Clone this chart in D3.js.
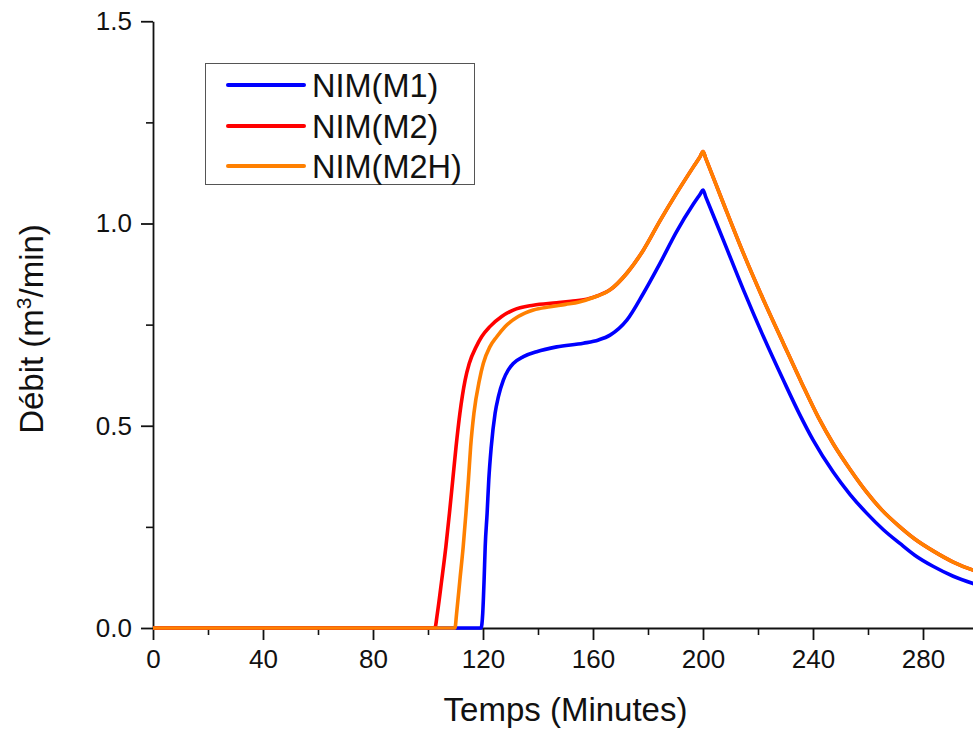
<!DOCTYPE html>
<html>
<head>
<meta charset="utf-8">
<script src="https://cdn.jsdelivr.net/npm/d3@7"></script>
<style>
  html, body { margin: 0; padding: 0; background: #fff; }
  svg { display: block; font-family: Arial, "Liberation Sans", sans-serif; }
</style>
</head>
<body>
<svg id="chart" width="973" height="730"></svg>
<script>
// ---- Data ----
const seriesNames = ["NIM(M1)", "NIM(M2)", "NIM(M2H)"];
const seriesColors = ["#0000ff", "#ff0000", "#ff8000"];

const m1Time = [0, 119.3, 119.9, 120.4, 120.8, 121.5, 122.1, 123.0, 124.4, 125.6, 127.4, 129.2, 131.0, 134.7, 139.5, 146.8, 156.5, 162, 166.2, 172.3, 178.3, 184.4, 190.4, 196.5, 199, 200, 201, 207.4, 214.7, 222, 229.2, 235, 240, 247.4, 253.5, 259.5, 265.6, 271.6, 277, 283.8, 291, 298.2, 300];
const m1Flow = [0, 0, 0.036, 0.119, 0.201, 0.284, 0.366, 0.448, 0.531, 0.572, 0.613, 0.638, 0.654, 0.671, 0.683, 0.695, 0.704, 0.712, 0.724, 0.761, 0.827, 0.902, 0.980, 1.048, 1.073, 1.083, 1.066, 0.959, 0.836, 0.720, 0.613, 0.530, 0.465, 0.385, 0.330, 0.284, 0.243, 0.209, 0.180, 0.152, 0.128, 0.110, 0.106];

const m2Time = [0, 102.5, 103.4, 105.0, 106.5, 107.8, 109.0, 110.2, 111.6, 113.5, 115.0, 117.5, 119.5, 122.5, 126.8, 131.0, 138.3, 146.8, 152, 157.7, 162, 166.2, 172.3, 178.3, 184.4, 190.4, 196.5, 199, 200, 201, 207.4, 214.7, 222, 229.2, 236, 242, 247.4, 253.5, 259.5, 265, 271.6, 277, 283.8, 291, 298.2, 300];
const m2Flow = [0, 0, 0.036, 0.119, 0.201, 0.284, 0.366, 0.448, 0.531, 0.613, 0.654, 0.695, 0.720, 0.745, 0.770, 0.786, 0.798, 0.804, 0.808, 0.813, 0.822, 0.836, 0.877, 0.934, 1.007, 1.075, 1.140, 1.166, 1.178, 1.161, 1.050, 0.926, 0.811, 0.704, 0.604, 0.520, 0.455, 0.392, 0.336, 0.292, 0.250, 0.220, 0.190, 0.163, 0.143, 0.139];

const m2hTime = [0, 109.8, 110.4, 111.6, 112.8, 113.8, 114.7, 115.5, 116.7, 118.7, 120.1, 122.5, 125.0, 128.0, 132.8, 138.3, 144.4, 150, 155, 160.1, 166.2, 172.3, 178.3, 184.4, 190.4, 196.5, 199, 200, 201, 207.4, 214.7, 222, 229.2, 236, 242, 247.4, 253.5, 259.5, 265, 271.6, 277, 283.8, 291, 298.2, 300];
const m2hFlow = [0, 0, 0.036, 0.119, 0.201, 0.284, 0.366, 0.448, 0.531, 0.613, 0.654, 0.695, 0.720, 0.745, 0.770, 0.786, 0.794, 0.800, 0.806, 0.817, 0.836, 0.877, 0.934, 1.007, 1.075, 1.140, 1.166, 1.178, 1.161, 1.050, 0.926, 0.811, 0.704, 0.604, 0.520, 0.455, 0.392, 0.336, 0.292, 0.250, 0.220, 0.190, 0.163, 0.143, 0.139];

const xMajorTicks = [0, 40, 80, 120, 160, 200, 240, 280];
const xMinorTicks = [20, 60, 100, 140, 180, 220, 260, 300];
const yMajorTicks = [0, 0.5, 1.0, 1.5];
const yMinorTicks = [0.25, 0.75, 1.25];
const xTitle = "Temps (Minutes)";

// ---- Layout ----
const svg = d3.select("#chart");
const mLeft = 153, mRight = 978, mTop = 21.25, mBottom = 628;

const x = d3.scaleLinear().domain([0, 300]).range([mLeft, mRight]);
const y = d3.scaleLinear().domain([0, 1.5]).range([mBottom, mTop]);

const tickFont = "26px";

// Minor ticks
svg.append("g")
  .attr("transform", `translate(0,${mBottom})`)
  .call(d3.axisBottom(x).tickValues(xMinorTicks).tickSize(7).tickSizeOuter(0).tickFormat(""))
  .call(g => g.select(".domain").remove())
  .call(g => g.selectAll("line").attr("stroke", "#111").attr("stroke-width", 1.6));
svg.append("g")
  .attr("transform", `translate(${mLeft},0)`)
  .call(d3.axisLeft(y).tickValues(yMinorTicks).tickSize(7).tickSizeOuter(0).tickFormat(""))
  .call(g => g.select(".domain").remove())
  .call(g => g.selectAll("line").attr("stroke", "#111").attr("stroke-width", 1.6));

// Major axes
const xAxis = svg.append("g")
  .attr("transform", `translate(0,${mBottom})`)
  .call(d3.axisBottom(x).tickValues(xMajorTicks).tickSize(12).tickPadding(10).tickSizeOuter(0).tickFormat(d3.format("d")));
xAxis.select(".domain").attr("stroke", "#111").attr("stroke-width", 1.8);
xAxis.selectAll("line").attr("stroke", "#111").attr("stroke-width", 1.8);
xAxis.selectAll("text").attr("font-size", tickFont).attr("fill", "#111")
  .attr("font-family", "Arial, 'Liberation Sans', sans-serif");

const yAxis = svg.append("g")
  .attr("transform", `translate(${mLeft},0)`)
  .call(d3.axisLeft(y).tickValues(yMajorTicks).tickSize(12).tickPadding(9).tickSizeOuter(0).tickFormat(d3.format(".1f")));
yAxis.select(".domain").attr("stroke", "#111").attr("stroke-width", 1.8);
yAxis.selectAll("line").attr("stroke", "#111").attr("stroke-width", 1.8);
yAxis.selectAll("text").attr("font-size", tickFont).attr("fill", "#111")
  .attr("font-family", "Arial, 'Liberation Sans', sans-serif");

// ---- Lines ----
const series = [
  { name: seriesNames[0], color: seriesColors[0], pts: m1Time.map((t, i) => [t, m1Flow[i]]) },
  { name: seriesNames[1], color: seriesColors[1], pts: m2Time.map((t, i) => [t, m2Flow[i]]) },
  { name: seriesNames[2], color: seriesColors[2], pts: m2hTime.map((t, i) => [t, m2hFlow[i]]) }
];

const line = d3.line()
  .x(d => x(d[0]))
  .y(d => y(d[1]))
  .curve(d3.curveMonotoneX);

svg.append("g").selectAll("path")
  .data(series)
  .join("path")
  .attr("d", d => line(d.pts))
  .attr("fill", "none")
  .attr("stroke", d => d.color)
  .attr("stroke-width", 3.6)
  .attr("stroke-linejoin", "round");

// ---- Axis titles ----
svg.append("text")
  .attr("x", (mLeft + mRight) / 2)
  .attr("y", 721)
  .attr("text-anchor", "middle")
  .attr("font-size", "33px")
  .attr("fill", "#111")
  .text(xTitle);

const yt = svg.append("text")
  .attr("transform", `translate(42.5,329) rotate(-90)`)
  .attr("text-anchor", "middle")
  .attr("font-size", "33px")
  .attr("fill", "#111");
yt.append("tspan").text("Débit (m");
yt.append("tspan").attr("font-size", "21px").attr("dy", "-12").text("3");
yt.append("tspan").attr("dy", "12").text("/min)");

// ---- Legend ----
const legend = svg.append("g");
legend.append("rect")
  .attr("x", 205.5).attr("y", 63.5).attr("width", 269).attr("height", 121)
  .attr("fill", "#fff").attr("stroke", "#555").attr("stroke-width", 1);
const legendY = [85, 126, 166];
series.forEach((s, i) => {
  legend.append("line")
    .attr("x1", 228).attr("x2", 304)
    .attr("y1", legendY[i]).attr("y2", legendY[i])
    .attr("stroke", s.color).attr("stroke-width", 4).attr("stroke-linecap", "round");
  legend.append("text")
    .attr("x", 312).attr("y", legendY[i])
    .attr("dy", "0.36em")
    .attr("font-size", "32.5px")
    .attr("fill", "#111")
    .text(s.name);
});
</script>
</body>
</html>
